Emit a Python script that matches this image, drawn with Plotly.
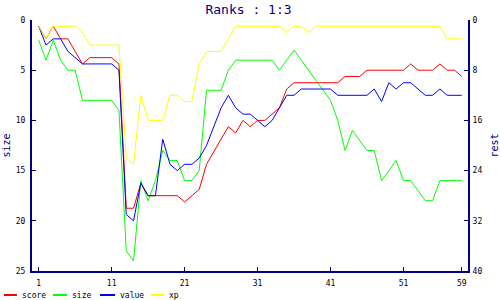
import plotly.graph_objects as go

# ---- data ----
x = list(range(1, 60))
score = [1, 3, 1, 3, 3, 5, 7, 6, 6, 6, 6, 7,
         30, 30, 26, 28, 28, 28, 28, 28, 29, 28, 27, 23,
         21, 19, 17, 18, 16, 17, 16, 16, 15, 14, 11, 10,
         10, 10, 10, 10, 10, 10, 9, 9, 9, 8, 8, 8,
         8, 8, 8, 7, 8, 8, 8, 7, 8, 8, 9]
size = [2, 4, 2, 4, 5, 5, 8, 8, 8, 8, 8, 9,
        23, 24, 16, 18, 16, 13, 14, 14, 16, 16, 15, 7,
        7, 7, 5, 4, 4, 4, 4, 4, 4, 5, 4, 3,
        4, 5, 6, 7, 8, 10, 13, 11, 12, 13, 13, 16,
        15, 14, 16, 16, 17, 18, 18, 16, 16, 16, 16]
value = [1, 4, 3, 3, 5, 6, 7, 7, 7, 7, 7, 8,
         31, 32, 26, 28, 28, 19, 23, 24, 23, 23, 22, 20,
         17, 14, 12, 14, 15, 15, 16, 17, 16, 14, 12, 12,
         11, 11, 11, 11, 11, 12, 12, 12, 12, 12, 11, 13,
         10, 11, 10, 10, 11, 12, 12, 11, 12, 12, 12]
xp = [1, 3, 1, 1, 1, 1, 2, 4, 4, 4, 4, 4,
      22, 23, 12, 16, 16, 16, 12, 12, 13, 13, 7, 5,
      5, 5, 3, 1, 1, 1, 1, 1, 1, 1, 2, 1,
      1, 2, 1, 1, 1, 1, 1, 1, 1, 1, 1, 1,
      1, 1, 1, 1, 1, 1, 1, 1, 3, 3, 3]

x_ticks = [1, 11, 21, 31, 41, 51, 59]
left_ticks = [0, 5, 10, 15, 20, 25]
right_ticks = [0, 8, 16, 24, 32, 40]

series_names = ["score", "size", "value", "xp"]
series_colors = ["#ff0000", "#00ff00", "#0000ff", "#ffff00"]

NAVY = "#000080"
FONT = "DejaVu Sans Mono"

fig = go.Figure()
data_map = {"score": (score, "y2"), "size": (size, "y"), "value": (value, "y2"), "xp": (xp, "y2")}
for name, color in zip(series_names, series_colors):
    vals, ax = data_map[name]
    fig.add_trace(go.Scatter(x=x, y=vals, name=name, mode="lines", yaxis=ax,
                             line=dict(color=color, width=1), showlegend=False))

W, H = 500, 300
ML, MR, MT, MB = 32, 32, 20, 29
PW, PH = W - ML - MR, H - MT - MB

def px_x(p):
    return (p - ML) / PW

def px_y(p):
    return (H - MB - p) / PH

axis_common = dict(showline=True, linecolor=NAVY, linewidth=2, ticks="inside", ticklen=4,
                   tickwidth=1, tickcolor=NAVY, showgrid=False, zeroline=False, automargin=False,
                   tickfont=dict(family=FONT, size=8, color="black"))

fig.update_layout(
    width=W, height=H, margin=dict(l=ML, r=MR, t=MT, b=MB, autoexpand=False),
    paper_bgcolor="white", plot_bgcolor="white",
    title=dict(text="Ranks : 1:3", x=0.497, xanchor="center", xref="container",
               y=1 - 9 / H, yanchor="middle", yref="container",
               font=dict(family=FONT, size=13, color=NAVY)),
    xaxis=dict(range=[0.08, 59.85], tickvals=x_ticks, ticklabelstandoff=3, **axis_common),
    yaxis=dict(range=[25, 0], tickvals=left_ticks, ticklabelstandoff=3,
               title=dict(text="size", font=dict(family=FONT, size=10, color=NAVY), standoff=3),
               **axis_common),
    yaxis2=dict(range=[40, 0], tickvals=right_ticks, overlaying="y", side="right", ticklabelstandoff=1,
                title=dict(text="rest", font=dict(family=FONT, size=10, color=NAVY), standoff=10),
                **axis_common),
)

# legend drawn at the bottom-left (line sample + label)
legend_pos = [(4, 17, 20), (53, 67, 70), (100, 115, 118), (151, 164, 167)]
ly = 295
for (x0, x1, tx), name, color in zip(legend_pos, series_names, series_colors):
    fig.add_shape(type="line", xref="paper", yref="paper",
                  x0=px_x(x0), x1=px_x(x1), y0=px_y(ly), y1=px_y(ly),
                  line=dict(color=color, width=2))
    fig.add_annotation(text=name, xref="paper", yref="paper", x=px_x(tx), y=px_y(ly),
                       xanchor="left", yanchor="middle", showarrow=False,
                       font=dict(family=FONT, size=8, color="black"))

fig.write_html("out.html")
